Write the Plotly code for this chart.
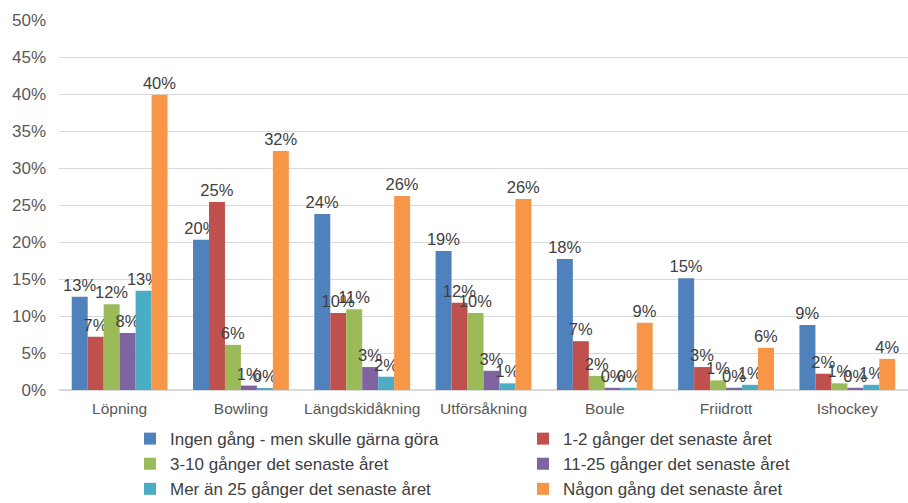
import plotly.graph_objects as go

categories = ["Löpning", "Bowling", "Längdskidåkning", "Utförsåkning", "Boule", "Friidrott", "Ishockey"]

series_names = [
    "Ingen gång - men skulle gärna göra",
    "1-2 gånger det senaste året",
    "3-10 gånger det senaste året",
    "11-25 gånger det senaste året",
    "Mer än 25 gånger det senaste året",
    "Någon gång det senaste året",
]

ingen = [12.6, 20.3, 23.8, 18.8, 17.7, 15.1, 8.8]
g1_2 = [7.2, 25.4, 10.4, 11.8, 6.6, 3.1, 2.2]
g3_10 = [11.6, 6.1, 10.9, 10.4, 1.9, 1.3, 0.9]
g11_25 = [7.7, 0.6, 3.1, 2.6, 0.3, 0.3, 0.3]
mer25 = [13.4, 0.2, 1.8, 0.9, 0.3, 0.7, 0.7]
nagon = [39.9, 32.3, 26.2, 25.8, 9.1, 5.7, 4.2]

series_values = [ingen, g1_2, g3_10, g11_25, mer25, nagon]
colors = ["#4F81BD", "#C0504D", "#9BBB59", "#8064A2", "#4BACC6", "#F79646"]

FONT = "Liberation Sans, Arial, sans-serif"

fig = go.Figure()
for i, (name, vals, col) in enumerate(zip(series_names, series_values, colors)):
    fig.add_trace(go.Bar(
        x=categories, y=vals, name=name,
        marker=dict(color=col, line=dict(width=0)),
        texttemplate="%{y:.0f}%", textposition="outside",
        textfont=dict(size=16.5, color="#404040", family=FONT),
        constraintext="none", cliponaxis=False,
        legend="legend" if i % 2 == 0 else "legend2",
        legendgroup="g%d" % i,
    ))

legend_common = dict(orientation="v", yanchor="top", y=-0.084, xanchor="left",
                     tracegroupgap=15, itemwidth=30, bgcolor="rgba(0,0,0,0)",
                     font=dict(size=17, color="#404040", family=FONT),
                     traceorder="normal")

fig.update_layout(
    width=908, height=503,
    margin=dict(l=59, r=0, t=20, b=113, autoexpand=False),
    paper_bgcolor="white", plot_bgcolor="white",
    barmode="group", bargap=0.21, bargroupgap=0,
    font=dict(family=FONT, size=16, color="#595959"),
    xaxis=dict(showline=True, linecolor="#d9d9d9", ticks="", ticklabelstandoff=4,
               tickfont=dict(size=15.5, color="#595959")),
    yaxis=dict(range=[0, 50], dtick=5, ticksuffix="%", gridcolor="#d9d9d9", gridwidth=1,
               zeroline=True, zerolinecolor="#d9d9d9", showline=False,
               ticklabelstandoff=12,
               tickfont=dict(size=17, color="#595959")),
    legend=dict(x=0.0836, **legend_common),
    legend2=dict(x=0.5465, **legend_common),
    showlegend=True,
)

fig.write_html("out.html", config={"displayModeBar": False},
               post_script="document.body.style.margin='0';document.body.style.overflow='hidden';")
